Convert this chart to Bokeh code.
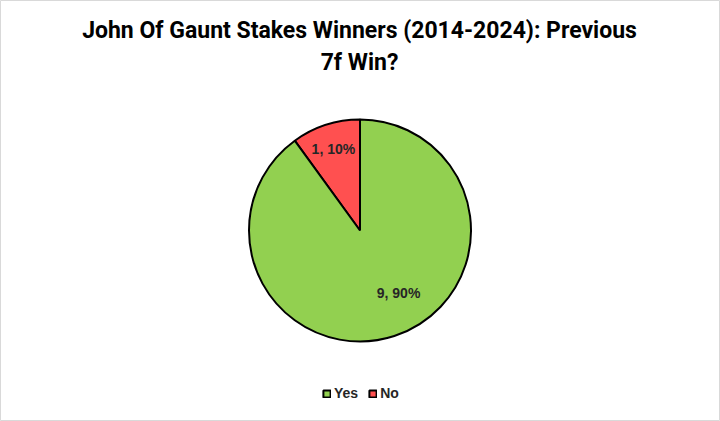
import math
from bokeh.plotting import figure
from bokeh.models import Range1d, Legend, LegendItem, ColumnDataSource
from bokeh.core.properties import value
from bokeh.embed import file_html
from bokeh.resources import INLINE

title_lines = ["John Of Gaunt Stakes Winners (2014-2024): Previous", "7f Win?"]
categories = ["Yes", "No"]
counts = [9, 1]
colors = ["#92D050", "#FF5050"]

W, H = 720, 421
p = figure(width=W, height=H, output_backend="svg", toolbar_location=None,
           x_range=Range1d(0, W), y_range=Range1d(0, H), min_border=0)
p.axis.visible = False
p.grid.visible = False
p.outline_line_color = "#d9d9d9"
p.outline_line_width = 1
p.background_fill_color = "white"
p.border_fill_color = "white"

def sy(y):
    return H - y

cx, cy, r = 359.5, sy(230), 111
total = sum(counts)
# Draw 'No' starting at top going counter-clockwise, then 'Yes'
order = [1, 0]
start = math.pi / 2
renderers = {}
label_x, label_y, label_t = [], [], []
label_frac = {0: 0.66, 1: 0.775}
label_shift = {0: 0.24, 1: 0.0}
for i in order:
    span = 2 * math.pi * counts[i] / total
    end = start + span
    src = ColumnDataSource(dict(x=[cx], y=[cy], s=[start], e=[end]))
    rr = p.wedge(x="x", y="y", radius=r, start_angle="s", end_angle="e",
                 direction="anticlock", fill_color=colors[i], line_color="black",
                 line_width=2, source=src, radius_units="screen")
    renderers[i] = rr
    mid = (start + end) / 2 + label_shift[i]
    label_x.append(cx + label_frac[i] * r * math.cos(mid))
    label_y.append(cy + label_frac[i] * r * math.sin(mid))
    label_t.append(f"{counts[i]}, {round(100 * counts[i] / total)}%")
    start = end

p.text(x=label_x, y=label_y, text=label_t, text_font=value("Liberation Sans"),
       text_font_style="bold", text_font_size="14px", text_align="center",
       text_baseline="middle", text_color="#262626")

p.text(x=[359, 359], y=[sy(30), sy(62)], text=title_lines,
       text_font=value("Roboto"), text_font_style="bold",
       text_font_size="23px", text_align="center", text_baseline="middle",
       text_color="black")

legend = Legend(items=[LegendItem(label=categories[i], renderers=[renderers[i]]) for i in range(2)],
                orientation="horizontal", location=(322, 20),
                glyph_width=9, glyph_height=9, label_standoff=3, spacing=10,
                padding=0, margin=0, border_line_color=None, background_fill_alpha=0,
                label_text_font="Liberation Sans", label_text_font_style="bold",
                label_text_font_size="14px", label_text_color="#262626")
p.add_layout(legend, "center")

open("out.html", "w").write(file_html(p, INLINE))
